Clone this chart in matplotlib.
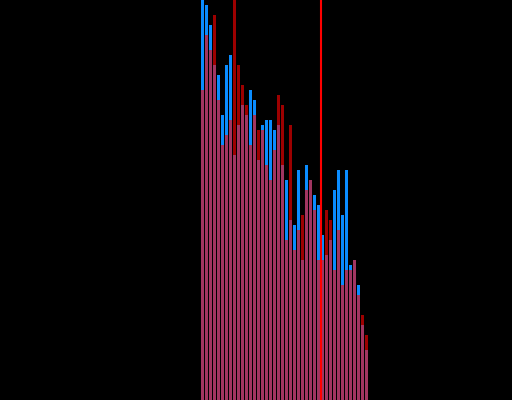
import matplotlib
matplotlib.use("Agg")
import matplotlib.pyplot as plt

# bin index 0..41, heights (top of first bars is clipped)
bins = list(range(42))
blue_counts = [84, 79, 75, 67, 65, 57, 67, 69, 49, 55, 59, 57, 62, 60, 48, 55, 56, 56, 54, 55, 47,
               44, 36, 35, 46, 28, 47, 44, 41, 39, 33, 29, 32, 42, 46, 37, 46, 27, 28, 23, 15, 10]
red_counts = [62, 73, 70, 77, 60, 51, 53, 56, 85, 67, 63, 59, 51, 57, 54, 54, 47, 44, 50, 61, 59,
              32, 55, 30, 34, 37, 42, 44, 38, 28, 28, 38, 36, 26, 34, 23, 26, 26, 28, 21, 17, 13]
cutoff = 29.5

fig = plt.figure(figsize=(5.12, 4.0), dpi=100, facecolor="black")
ax = fig.add_axes([0, 0, 1, 1])
ax.set_facecolor("black")

ax.bar(bins, blue_counts, width=0.8, color="#0a8cff")
ax.bar(bins, red_counts, width=0.8, color="#ff0000", alpha=0.62)
ax.axvline(cutoff, color="#ff0000", linewidth=1.5)

ax.set_xlim(-50.625, 77.375)
ax.set_ylim(0, 80)
ax.axis("off")

fig.savefig("out.png", dpi=100, facecolor="black")
